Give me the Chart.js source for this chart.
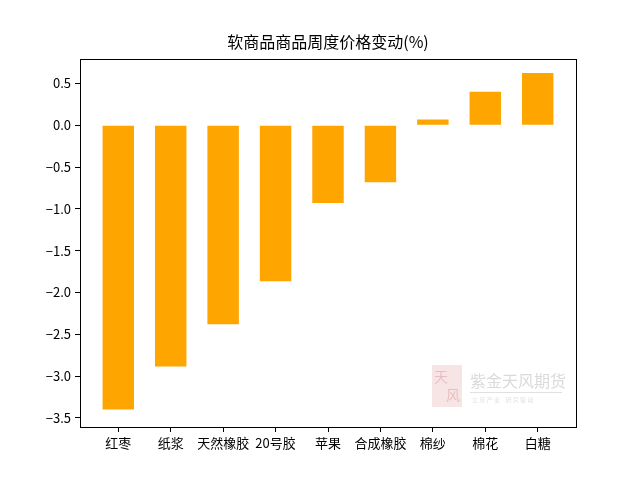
<!DOCTYPE html>
<html>
<head>
<meta charset="utf-8">
<script src="https://cdn.jsdelivr.net/npm/chart.js@4/dist/chart.umd.min.js"></script>
<style>
html,body{margin:0;padding:0;background:#fff;}
#wrap{width:640px;height:480px;}
</style>
</head>
<body>
<div id="wrap"><canvas id="c" width="640" height="480"></canvas></div>
<script>
const titleText = '软商品商品周度价格变动(%)';
const categories = ['红枣','纸浆','天然橡胶','20号胶','苹果','合成橡胶','棉纱','棉花','白糖'];
const changes = [-3.40, -2.885, -2.38, -1.865, -0.93, -0.68, 0.07, 0.40, 0.625];
const yTicks = [-3.5, -3.0, -2.5, -2.0, -1.5, -1.0, -0.5, 0.0, 0.5];

const FONT = '"Noto Sans CJK SC", "DejaVu Sans", sans-serif';

const framePlugin = {
  id: 'frame',
  afterDatasetsDraw(chart) {
    const {ctx, chartArea: a} = chart;
    ctx.save();
    ctx.strokeStyle = '#000';
    ctx.lineWidth = 1;
    ctx.strokeRect(Math.round(a.left) + 0.5, Math.round(a.top) + 0.5,
                   Math.round(a.right - a.left), Math.round(a.bottom - a.top));
    ctx.restore();
  }
};

const watermarkPlugin = {
  id: 'watermark',
  afterDatasetsDraw(chart) {
    const {ctx, chartArea: a} = chart;
    ctx.save();
    const x0 = a.right - 144, y0 = a.bottom - 62;
    ctx.fillStyle = 'rgba(225,150,150,0.25)';
    ctx.fillRect(x0, y0, 30, 42);
    ctx.fillStyle = 'rgba(200,120,120,0.35)';
    ctx.font = '14px ' + FONT;
    ctx.textBaseline = 'middle';
    ctx.fillText('天', x0 + 2, y0 + 12);
    ctx.fillText('风', x0 + 14, y0 + 30);
    ctx.fillStyle = 'rgba(150,150,150,0.35)';
    ctx.font = '16px ' + FONT;
    ctx.fillText('紫金天风期货', x0 + 38, y0 + 16);
    ctx.fillStyle = 'rgba(170,170,170,0.35)';
    ctx.fillRect(x0 + 38, y0 + 27, 92, 1);
    ctx.font = '6px ' + FONT;
    ctx.fillText('立 足 产 业    研 究 驱 动', x0 + 40, y0 + 35);
    ctx.restore();
  }
};

new Chart(document.getElementById('c'), {
  type: 'bar',
  data: {
    datasets: [{
      data: changes.map((v, i) => ({x: i, y: v})),
      backgroundColor: '#FFA500',
      borderWidth: 0,
      categoryPercentage: 1.0,
      barPercentage: 0.6
    }]
  },
  options: {
    responsive: false,
    animation: false,
    devicePixelRatio: 1,
    layout: {padding: {left: 0, right: 64, top: 0, bottom: 0}},
    plugins: {
      legend: {display: false},
      tooltip: {enabled: false},
      title: {
        display: true,
        text: titleText,
        fullSize: false,
        color: '#000',
        font: {family: FONT, size: 16, weight: 'normal'},
        padding: {top: 32, bottom: 8}
      }
    },
    scales: {
      x: {
        type: 'linear',
        offset: false,
        min: -0.73,
        max: categories.length - 1 + 0.73,
        afterBuildTicks(scale) { scale.ticks = categories.map((c, i) => ({value: i})); },
        afterFit(scale) { scale.height = 53; },
        ticks: {
          autoSkip: false,
          maxRotation: 0,
          color: '#000',
          padding: 3,
          font: {family: FONT, size: 13},
          callback: (v) => categories[v]
        },
        grid: {offset: false, drawOnChartArea: false, drawTicks: true, tickLength: 5, color: '#000'},
        border: {display: true, color: '#000'}
      },
      y: {
        type: 'linear',
        min: -3.608,
        max: 0.79,
        afterBuildTicks(scale) { scale.ticks = yTicks.map(v => ({value: v})); },
        afterFit(scale) { scale.width = 80; },
        ticks: {
          color: '#000',
          padding: 4,
          font: {family: FONT, size: 13},
          callback: (v) => (v < 0 ? '\u2212' : '') + Math.abs(v).toFixed(1)
        },
        grid: {drawOnChartArea: false, drawTicks: true, tickLength: 5, color: '#000'},
        border: {display: true, color: '#000'}
      }
    }
  },
  plugins: [framePlugin, watermarkPlugin]
});
</script>
</body>
</html>
